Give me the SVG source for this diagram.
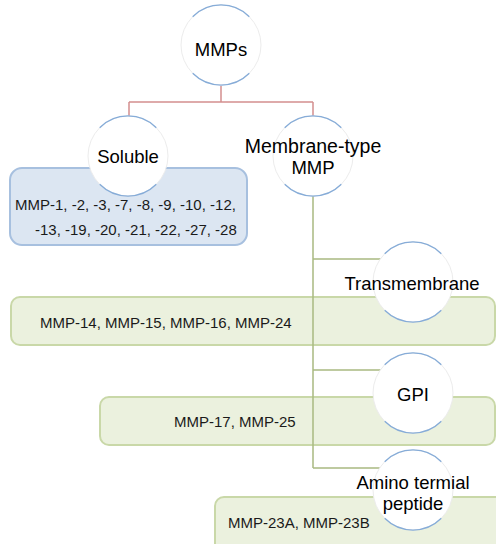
<svg xmlns="http://www.w3.org/2000/svg" width="496" height="544" viewBox="0 0 496 544">
<style>
.lbl{font-family:"Liberation Sans",Arial,sans-serif;font-size:18.5px;fill:#000;text-anchor:middle}
.item{font-family:"Liberation Sans",Arial,sans-serif;font-size:15px;fill:#1a1a1a}
.bbox{fill:#dce6f2;stroke:#a7c0df;stroke-width:2}
.gbox{fill:#ebf1de;stroke:#c9d8a8;stroke-width:2}
.red{stroke:#d38f8f;stroke-width:1.5;fill:none}
.grn{stroke:#a9b981;stroke-width:1.5;fill:none}
.disc{fill:#fff;stroke:#ececec;stroke-width:1}
.arc{fill:none;stroke:#86acd8;stroke-width:1.3}
</style>
<defs>
<g id="ring">
<circle class="disc" cx="0" cy="0" r="40"/>
<path class="arc" d="M-28.3,-28.3 A40,40 0 0 1 28.3,-28.3"/>
<path class="arc" d="M-28.3,28.3 A40,40 0 0 0 28.3,28.3"/>
</g>
</defs>
<g id="boxes">
<rect id="box-soluble" class="bbox" x="10" y="168" width="237" height="77" rx="12"/>
<rect id="box-trans" class="gbox" x="11" y="297" width="484" height="48" rx="9"/>
<rect id="box-gpi" class="gbox" x="100" y="397" width="395" height="48" rx="9"/>
<rect id="box-amino" class="gbox" x="215" y="497" width="290" height="60" rx="9"/>
</g>
<g id="connectors">
<path class="red" d="M221,86 V102 M129,102 H313 M129,102 V118 M313,102 V118"/>
<path class="grn" d="M313,194 V468 M313,259 H400 M313,370 H400 M313,468 H400"/>
</g>
<g id="node-mmps">
<use href="#ring" x="221" y="45"/>
<text class="lbl" x="221" y="56">MMPs</text>
</g>
<g id="node-soluble">
<use href="#ring" x="128" y="156"/>
<text class="lbl" x="128" y="163">Soluble</text>
</g>
<g id="node-membrane">
<use href="#ring" x="313" y="156"/>
<text class="lbl" x="313" y="153" style="font-size:19.5px">Membrane-type</text>
<text class="lbl" x="313" y="174">MMP</text>
</g>
<g id="node-trans">
<use href="#ring" x="413" y="282"/>
<text class="lbl" x="412" y="290">Transmembrane</text>
</g>
<g id="node-gpi">
<use href="#ring" x="413" y="393"/>
<text class="lbl" x="413" y="401">GPI</text>
</g>
<g id="node-amino">
<use href="#ring" x="413" y="490"/>
<text class="lbl" x="413" y="489">Amino termial</text>
<text class="lbl" x="413" y="510">peptide</text>
</g>
<g id="items">
<text class="item" x="15" y="210">MMP-1, -2, -3, -7, -8, -9, -10, -12,</text>
<text class="item" x="35" y="235">-13, -19, -20, -21, -22, -27, -28</text>
<text class="item" x="40" y="328">MMP-14, MMP-15, MMP-16, MMP-24</text>
<text class="item" x="174" y="427">MMP-17, MMP-25</text>
<text class="item" x="228" y="528">MMP-23A, MMP-23B</text>
</g>
</svg>
